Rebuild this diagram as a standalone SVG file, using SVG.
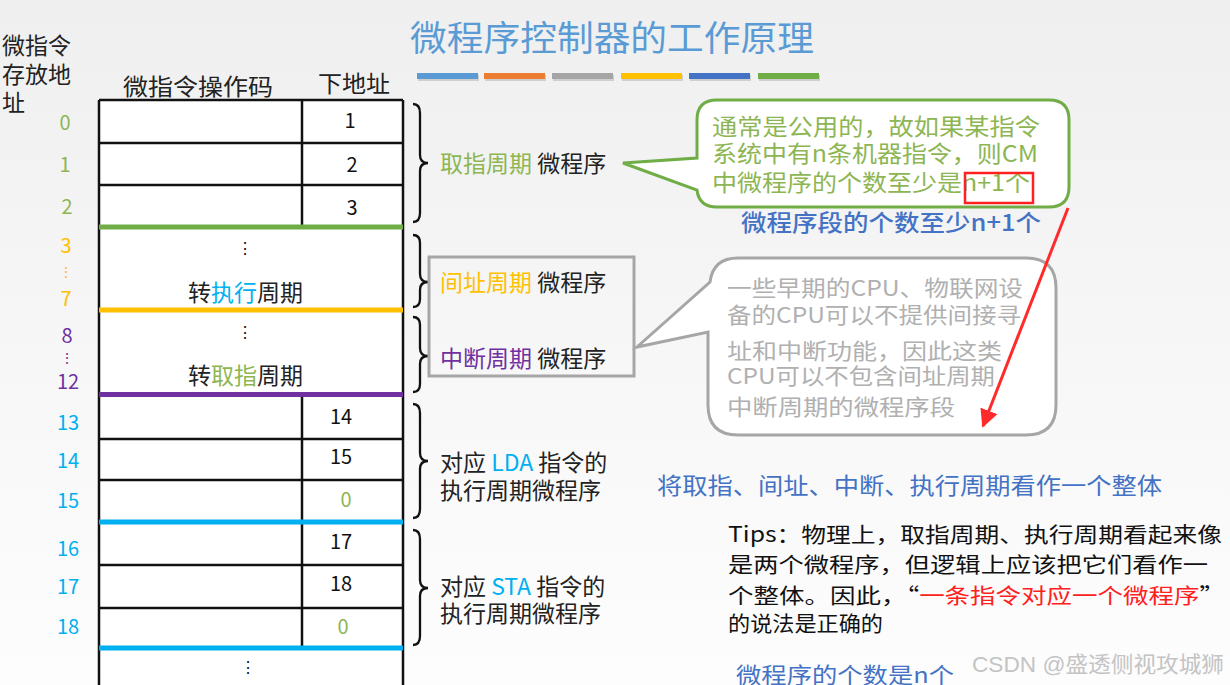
<svg xmlns="http://www.w3.org/2000/svg" width="1230" height="685" viewBox="0 0 1230 685">
<defs>
<linearGradient id="bg" x1="0" y1="0" x2="0" y2="1">
<stop offset="0" stop-color="#efefef"/>
<stop offset="0.6" stop-color="#f8f8f8"/>
<stop offset="1" stop-color="#fdfdfd"/>
</linearGradient>
<marker id="redhead" viewBox="0 0 10 10" refX="9" refY="5" markerWidth="6" markerHeight="6" orient="auto" markerUnits="strokeWidth">
<path d="M0,0 L10,5 L0,10 z" fill="#ff2a2a"/>
</marker>
<style>
text{font-family:"Noto Sans CJK SC","Liberation Sans",sans-serif;dominant-baseline:central}
.t{font-size:23px;fill:#222}
.num{font-size:20px;font-family:"Open Sans","Noto Sans CJK SC",sans-serif}
.cell{font-size:20px;fill:#111;font-family:"Open Sans","Noto Sans CJK SC",sans-serif}
.g{fill:#8db653}.y{fill:#ffc000}.p{fill:#7030a0}.b{fill:#00b0f0}.bl{fill:#4472c4}.r{fill:#ff2020}
.grid{stroke:#111;stroke-width:2.5;fill:none}
.brace{stroke:#111;stroke-width:2.3;fill:none}
</style>
</defs>
<rect width="1230" height="685" fill="url(#bg)"/>
<g id="title">
<text x="410" y="35" style="font-size:35px;fill:#5b9bd5" textLength="404" lengthAdjust="spacingAndGlyphs">微程序控制器的工作原理</text>
<g>
<rect x="418" y="75" width="61" height="6" fill="#cfcfcf"/>
<rect x="485" y="75" width="61" height="6" fill="#cfcfcf"/>
<rect x="553" y="75" width="61" height="6" fill="#cfcfcf"/>
<rect x="622" y="75" width="61" height="6" fill="#cfcfcf"/>
<rect x="690" y="75" width="61" height="6" fill="#cfcfcf"/>
<rect x="759" y="75" width="61" height="6" fill="#cfcfcf"/>
<rect x="417" y="73" width="61" height="6" fill="#5b9bd5"/>
<rect x="484" y="73" width="61" height="6" fill="#ed7d31"/>
<rect x="552" y="73" width="61" height="6" fill="#a5a5a5"/>
<rect x="621" y="73" width="61" height="6" fill="#ffc000"/>
<rect x="689" y="73" width="61" height="6" fill="#4472c4"/>
<rect x="758" y="73" width="61" height="6" fill="#70ad47"/>
</g>
</g>
<g id="headers">
<text class="t" x="2" y="44">微指令</text>
<text class="t" x="2" y="73">存放地</text>
<text class="t" x="2" y="101">址</text>
<text class="t" x="123" y="85" textLength="150" lengthAdjust="spacingAndGlyphs">微指令操作码</text>
<text class="t" x="318" y="82" textLength="72" lengthAdjust="spacingAndGlyphs">下地址</text>
</g>
<g id="addresses" class="num" text-anchor="middle">
<text class="g" x="65" y="121">0</text>
<text class="g" x="65" y="163">1</text>
<text class="g" x="67" y="205">2</text>
<text class="y" x="66" y="244">3</text>
<text class="y" x="66" y="271" style="font-size:14px">⋮</text>
<text class="y" x="66" y="297">7</text>
<text class="p" x="67" y="334">8</text>
<text class="p" x="67" y="357" style="font-size:14px">⋮</text>
<text class="p" x="68" y="380">12</text>
<text class="b" x="68" y="421">13</text>
<text class="b" x="68" y="459">14</text>
<text class="b" x="68" y="499">15</text>
<text class="b" x="68" y="547">16</text>
<text class="b" x="68" y="585">17</text>
<text class="b" x="68" y="625">18</text>
</g>
<g id="table">
<rect x="99" y="100" width="304" height="600" fill="#ffffff"/>
<path class="grid" d="M99,100 H403 M99,143 H403 M99,185 H403 M99,439 H403 M99,480 H403 M99,565 H403 M99,608 H403 M99,100 V700 M403,100 V700 M302,100 V227 M302,395 V648"/>
<rect x="99" y="224.5" width="304" height="5" fill="#70ad47"/>
<rect x="99" y="307.5" width="304" height="5" fill="#ffc000"/>
<rect x="99" y="392" width="304" height="5" fill="#7030a0"/>
<rect x="99" y="519.5" width="304" height="5" fill="#00b0f0"/>
<rect x="99" y="645.5" width="304" height="5" fill="#00b0f0"/>
<g class="cell" text-anchor="middle">
<text x="350" y="119">1</text>
<text x="352" y="163">2</text>
<text x="352" y="206">3</text>
<text x="341" y="415">14</text>
<text x="341" y="455">15</text>
<text x="346" y="498" class="g">0</text>
<text x="341" y="540">17</text>
<text x="341" y="582">18</text>
<text x="343" y="625" class="g">0</text>
<text x="245" y="247" style="font-size:16px">⋮</text>
<text x="245" y="331" style="font-size:16px">⋮</text>
<text x="248" y="666" style="font-size:16px">⋮</text>
</g>
<text class="t" x="188" y="291">转<tspan class="b">执行</tspan>周期</text>
<text class="t" x="188" y="374">转<tspan class="g">取指</tspan>周期</text>
</g>
<g id="braces">
<path class="brace" d="M413,104 Q420,104 420,113 L420,155 Q420,163 428,163 Q420,163 420,171 L420,213 Q420,222 413,222"/>
<path class="brace" d="M413,235 Q420,235 420,243 L420,274 Q420,282 428,282 Q420,282 420,290 L420,299 Q420,307 413,307"/>
<path class="brace" d="M413,317 Q420,317 420,325 L420,348 Q420,356 428,356 Q420,356 420,364 L420,384 Q420,392 413,392"/>
<path class="brace" d="M413,404 Q420,404 420,413 L420,453 Q420,461 428,461 Q420,461 420,469 L420,509 Q420,518 413,518"/>
<path class="brace" d="M413,530 Q420,530 420,539 L420,580 Q420,588 428,588 Q420,588 420,596 L420,636 Q420,645 413,645"/>
</g>
<g id="labels">
<text class="t" x="440" y="162"><tspan class="g">取指周期</tspan> 微程序</text>
<rect x="429" y="257" width="205" height="119" fill="none" stroke="#a6a6a6" stroke-width="3"/>
<text class="t" x="440" y="281"><tspan class="y">间址周期</tspan> 微程序</text>
<text class="t" x="440" y="357"><tspan class="p">中断周期</tspan> 微程序</text>
<text class="t" x="440" y="461">对应 <tspan class="b">LDA</tspan> 指令的</text>
<text class="t" x="440" y="489">执行周期微程序</text>
<text class="t" x="440" y="585">对应 <tspan class="b">STA</tspan> 指令的</text>
<text class="t" x="440" y="612">执行周期微程序</text>
</g>
<g id="bubble-green">
<path d="M717,100 H1049 Q1069,100 1069,120 V187 Q1069,207 1049,207 H717 Q699,207 697,190 L623,163 L697,158 V120 Q697,100 717,100 Z" fill="#ffffff" stroke="#70ad47" stroke-width="3"/>
<g style="font-size:23px" class="g">
<text x="712" y="125" textLength="328" lengthAdjust="spacingAndGlyphs">通常是公用的，故如果某指令</text>
<text x="712" y="152" textLength="326" lengthAdjust="spacingAndGlyphs">系统中有n条机器指令，则CM</text>
<text x="712" y="181" textLength="318" lengthAdjust="spacingAndGlyphs">中微程序的个数至少是n+1个</text>
</g>
<rect x="965" y="173" width="68" height="30" fill="none" stroke="#ff2020" stroke-width="2.5"/>
</g>
<text class="bl" x="741" y="221" style="font-size:23px;font-weight:500" textLength="300" lengthAdjust="spacingAndGlyphs">微程序段的个数至少n+1个</text>
<g id="bubble-gray">
<path d="M738,258 H1026 Q1056,258 1056,288 V405 Q1056,435 1026,435 H738 Q708,435 708,405 V332 L637,347 L710,282 Q713,258 738,258 Z" fill="#ffffff" stroke="#a6a6a6" stroke-width="3"/>
<g style="font-size:22px;fill:#b0b0b0">
<text x="727" y="286" textLength="296" lengthAdjust="spacingAndGlyphs">一些早期的CPU、物联网设</text>
<text x="727" y="313" textLength="294" lengthAdjust="spacingAndGlyphs">备的CPU可以不提供间接寻</text>
<text x="727" y="349" textLength="275" lengthAdjust="spacingAndGlyphs">址和中断功能，因此这类</text>
<text x="727" y="374" textLength="268" lengthAdjust="spacingAndGlyphs">CPU可以不包含间址周期</text>
<text x="727" y="405" textLength="228" lengthAdjust="spacingAndGlyphs">中断周期的微程序段</text>
</g>
</g>
<g id="connectors">
<line x1="1068" y1="208" x2="983" y2="426" stroke="#ff2a2a" stroke-width="3" marker-end="url(#redhead)"/>
</g>
<text class="bl" x="657" y="484" style="font-size:23px" textLength="505" lengthAdjust="spacingAndGlyphs">将取指、间址、中断、执行周期看作一个整体</text>
<g id="tips" style="font-size:21px;fill:#111">
<text x="728" y="533" textLength="494" lengthAdjust="spacingAndGlyphs">Tips：物理上，取指周期、执行周期看起来像</text>
<text x="728" y="563" textLength="480" lengthAdjust="spacingAndGlyphs">是两个微程序，但逻辑上应该把它们看作一</text>
<text x="728" y="594" textLength="497" lengthAdjust="spacingAndGlyphs">个整体。因此，“<tspan class="r">一条指令对应一个微程序</tspan>”</text>
<text x="728" y="622" textLength="155" lengthAdjust="spacingAndGlyphs">的说法是正确的</text>
</g>
<text class="bl" x="736" y="673" style="font-size:22px" textLength="218" lengthAdjust="spacingAndGlyphs">微程序的个数是n个</text>
<text x="972" y="664" style="font-size:22px;fill:#c4c4c4;font-family:'Liberation Sans','Noto Sans CJK SC',sans-serif" textLength="252" lengthAdjust="spacingAndGlyphs">CSDN @盛透侧视攻城狮</text>
</svg>
